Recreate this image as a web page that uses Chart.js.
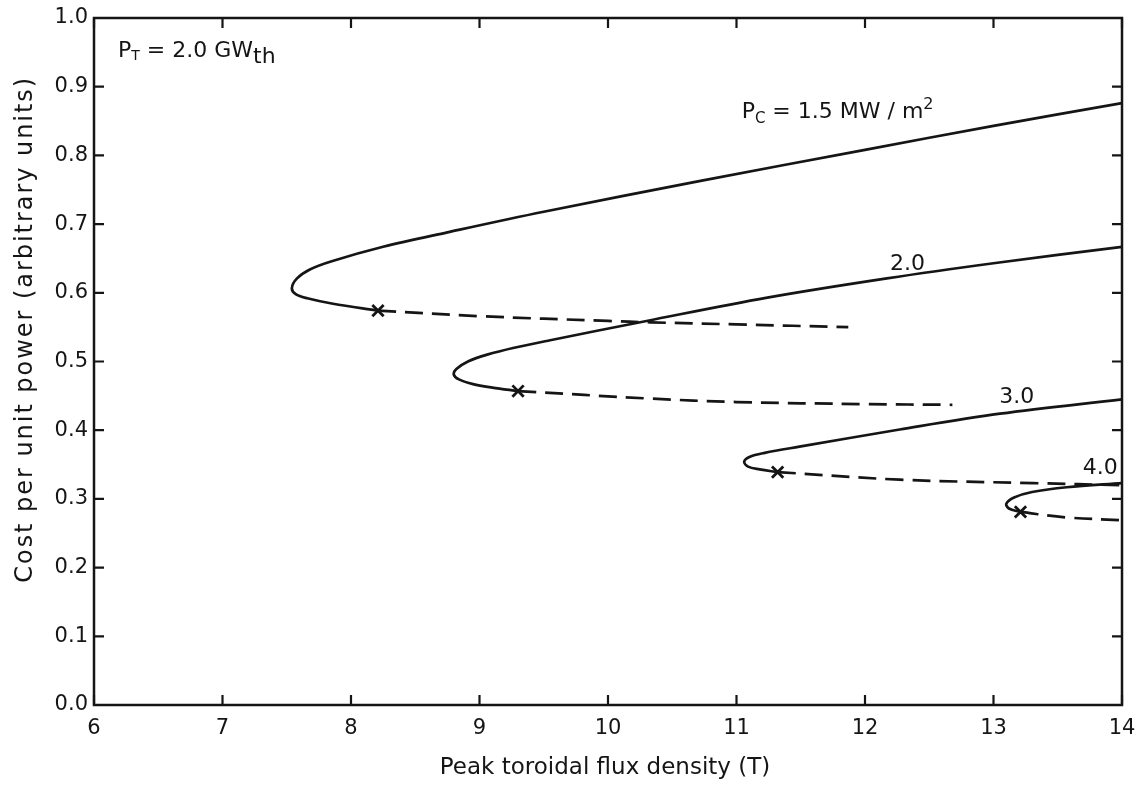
<!DOCTYPE html>
<html><head><meta charset="utf-8">
<script src="https://cdn.jsdelivr.net/npm/chart.js@4.4.1/dist/chart.umd.min.js"></script>
<style>html,body{margin:0;padding:0;background:#fff}#wrap{width:1139px;height:789px}</style>
</head><body><div id="wrap"><canvas id="c" width="1139" height="789"></canvas></div>
<script>
// ---- tick labels ----
const xTicks = [6, 7, 8, 9, 10, 11, 12, 13, 14];
const yTicks = [0.0, 0.1, 0.2, 0.3, 0.4, 0.5, 0.6, 0.7, 0.8, 0.9, 1.0];

// ---- Pc = 1.5 MW/m2 ----
const pc15SolidX = [14.0, 13.0, 12.0, 10.72, 9.5, 8.75, 8.25, 7.85, 7.68, 7.58, 7.54, 7.57, 7.66, 7.86, 8.21];
const pc15SolidY = [0.876, 0.843, 0.808, 0.763, 0.718, 0.688, 0.667, 0.646, 0.634, 0.621, 0.607, 0.598, 0.592, 0.584, 0.574];
const pc15DashX = [8.21, 9.0, 10.0, 10.33, 11.0, 11.87];
const pc15DashY = [0.574, 0.566, 0.559, 0.557, 0.554, 0.550];

// ---- Pc = 2.0 ----
const pc20SolidX = [14.0, 13.0, 12.17, 11.24, 10.30, 9.55, 9.27, 9.06, 8.91, 8.82, 8.80, 8.84, 8.95, 9.10, 9.30];
const pc20SolidY = [0.667, 0.643, 0.621, 0.593, 0.559, 0.531, 0.520, 0.510, 0.500, 0.489, 0.481, 0.474, 0.467, 0.462, 0.457];
const pc20DashX = [9.30, 10.33, 11.0, 12.0, 12.68];
const pc20DashY = [0.457, 0.446, 0.441, 0.438, 0.437];

// ---- Pc = 3.0 ----
const pc30SolidX = [14.0, 13.05, 12.27, 11.49, 11.22, 11.10, 11.06, 11.09, 11.18, 11.32];
const pc30SolidY = [0.445, 0.424, 0.401, 0.376, 0.367, 0.361, 0.354, 0.347, 0.343, 0.339];
const pc30DashX = [11.32, 12.27, 13.31, 14.0];
const pc30DashY = [0.339, 0.328, 0.323, 0.320];

// ---- Pc = 4.0 ----
const pc40SolidX = [14.0, 13.57, 13.30, 13.16, 13.10, 13.12, 13.21];
const pc40SolidY = [0.323, 0.317, 0.310, 0.302, 0.293, 0.286, 0.281];
const pc40DashX = [13.21, 13.57, 14.0];
const pc40DashY = [0.281, 0.273, 0.269];

// ---- X markers (transition points) ----
const markX = [8.21, 9.30, 11.32, 13.21];
const markY = [0.574, 0.457, 0.339, 0.281];

const curveNames = ['2.0', '3.0', '4.0'];

const FONT = "'DejaVu Sans', 'Liberation Sans', sans-serif";
const INK = '#151515';

const pts = (xs, ys) => xs.map((x, i) => ({ x: x, y: ys[i] }));
const solid = (xs, ys) => ({ data: pts(xs, ys), showLine: true, tension: 0.35, borderColor: INK, borderWidth: 2.7, pointRadius: 0, fill: false });
const dashed = (xs, ys) => ({ data: pts(xs, ys), showLine: true, tension: 0.35, borderColor: INK, borderWidth: 2.7, borderDash: [18, 9], pointRadius: 0, fill: false });

const framePlugin = {
  id: 'frame',
  afterDatasetsDraw(chart) {
    const { ctx, chartArea: a, scales: { x, y } } = chart;
    ctx.save();
    ctx.strokeStyle = INK;
    ctx.lineWidth = 2.5;
    ctx.strokeRect(a.left, a.top, a.right - a.left, a.bottom - a.top);
    const L = 10;
    ctx.beginPath();
    xTicks.forEach(v => {
      const px = x.getPixelForValue(v);
      ctx.moveTo(px, a.bottom); ctx.lineTo(px, a.bottom - L);
      ctx.moveTo(px, a.top); ctx.lineTo(px, a.top + L);
    });
    yTicks.forEach(v => {
      const py = y.getPixelForValue(v);
      ctx.moveTo(a.left, py); ctx.lineTo(a.left + L, py);
      ctx.moveTo(a.right, py); ctx.lineTo(a.right - L, py);
    });
    ctx.lineWidth = 2.2;
    ctx.stroke();
    ctx.restore();
  }
};

function drawRuns(ctx, x0, baseY, runs) {
  let cx = x0;
  runs.forEach(r => {
    ctx.font = r.size + 'px ' + FONT;
    ctx.fillText(r.t, cx, baseY + (r.dy || 0));
    cx += ctx.measureText(r.t).width;
  });
}

const textPlugin = {
  id: 'texts',
  afterDraw(chart) {
    const { ctx, chartArea: a, scales: { x, y } } = chart;
    ctx.save();
    ctx.fillStyle = INK;
    ctx.textBaseline = 'alphabetic';
    ctx.textAlign = 'left';
    // P_T label
    drawRuns(ctx, x.getPixelForValue(6.187), y.getPixelForValue(0.943), [
      { t: 'P', size: 22 }, { t: 'T', size: 14, dy: 3 }, { t: ' = 2.0 GW', size: 22 }, { t: 'th', size: 22, dy: 6 }
    ]);
    // P_C label
    drawRuns(ctx, x.getPixelForValue(11.04), y.getPixelForValue(0.854), [
      { t: 'P', size: 22 }, { t: 'C', size: 15, dy: 5 }, { t: ' = 1.5 MW / m', size: 22 }, { t: '2', size: 16, dy: -9 }
    ]);
    // curve labels
    ctx.font = '22px ' + FONT;
    ctx.textAlign = 'center';
    ctx.textBaseline = 'middle';
    const lx = [12.33, 13.18, 13.83];
    const ly = [0.642, 0.448, 0.345];
    curveNames.forEach((n, i) => ctx.fillText(n, x.getPixelForValue(lx[i]), y.getPixelForValue(ly[i])));
    // x title
    ctx.font = '23px ' + FONT;
    ctx.fillText('Peak toroidal flux density (T)', 605, 768);
    // y title
    const title = 'Cost per unit power (arbitrary units)';
    const yTop = y.getPixelForValue(0.913), yBot = y.getPixelForValue(0.178);
    const target = yBot - yTop;
    ctx.font = '24px ' + FONT;
    const w = ctx.measureText(title).width;
    const sp = Math.max(0, (target - w) / (title.length - 1));
    ctx.translate(26, (yTop + yBot) / 2);
    ctx.rotate(-Math.PI / 2);
    ctx.textAlign = 'left';
    if ('letterSpacing' in ctx) {
      ctx.letterSpacing = sp.toFixed(2) + 'px';
      ctx.fillText(title, -target / 2, 0);
    } else {
      ctx.fillText(title, -w / 2, 0);
    }
    ctx.restore();
  }
};

new Chart(document.getElementById('c').getContext('2d'), {
  type: 'scatter',
  data: {
    datasets: [
      solid(pc15SolidX, pc15SolidY), dashed(pc15DashX, pc15DashY),
      solid(pc20SolidX, pc20SolidY), dashed(pc20DashX, pc20DashY),
      solid(pc30SolidX, pc30SolidY), dashed(pc30DashX, pc30DashY),
      solid(pc40SolidX, pc40SolidY), dashed(pc40DashX, pc40DashY),
      { data: pts(markX, markY), showLine: false, pointStyle: 'crossRot', pointRadius: 8, borderWidth: 2.8, borderColor: INK, backgroundColor: INK }
    ]
  },
  options: {
    responsive: false,
    animation: false,
    events: [],
    layout: { padding: { left: 0, right: 17, top: 18, bottom: 0 } },
    plugins: { legend: { display: false }, tooltip: { enabled: false } },
    scales: {
      x: {
        type: 'linear', min: 6, max: 14,
        afterBuildTicks: s => { s.ticks = xTicks.map(v => ({ value: v })); },
        afterFit: s => { s.height = 84; s.paddingLeft = 0; s.paddingRight = 0; },
        ticks: { font: { family: FONT, size: 21 }, color: INK, padding: 11, maxRotation: 0, autoSkip: false, callback: v => String(v) },
        grid: { display: false, drawTicks: false },
        border: { display: false }
      },
      y: {
        type: 'linear', min: 0, max: 1,
        afterBuildTicks: s => { s.ticks = yTicks.map(v => ({ value: v })); },
        afterFit: s => { s.width = 94; s.paddingTop = 0; s.paddingBottom = 0; },
        ticks: { font: { family: FONT, size: 21 }, color: INK, padding: 6, autoSkip: false, callback: v => Number(v).toFixed(1) },
        grid: { display: false, drawTicks: false },
        border: { display: false }
      }
    }
  },
  plugins: [framePlugin, textPlugin]
});
</script>
</body></html>
